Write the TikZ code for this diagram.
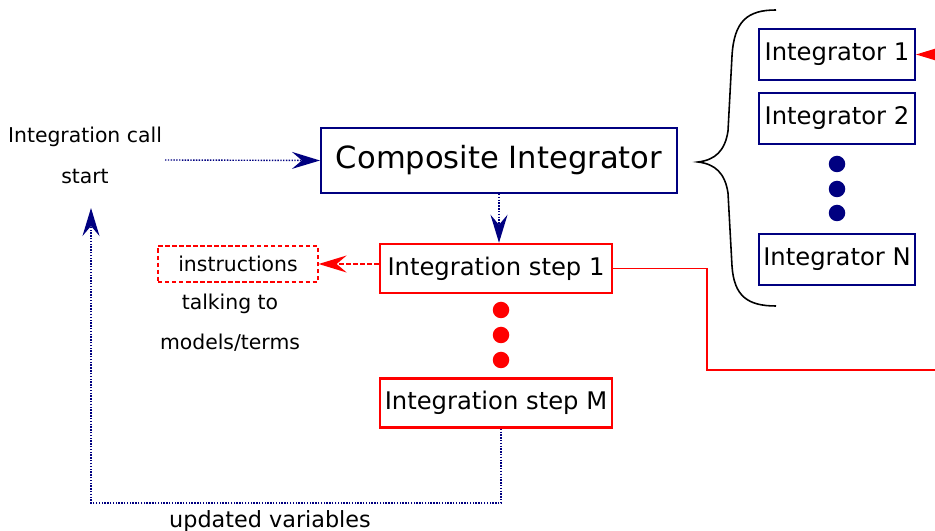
\documentclass[tikz,border=0pt]{standalone}
\usepackage{fontspec}
\setmainfont{DejaVu Sans}
\usetikzlibrary{arrows.meta}
\definecolor{navy}{RGB}{0,0,128}
\tikzset{
  integ/.style={draw=navy,line width=1.2pt,minimum width=3.12cm,minimum height=1.02cm,inner sep=1pt,font=\fontsize{13.8}{16}\selectfont},
  stepbox/.style={draw=red,line width=1.4pt,minimum width=4.64cm,minimum height=0.98cm,inner sep=1pt,font=\fontsize{13.8}{16}\selectfont},
  smalltext/.style={font=\fontsize{11.6}{14}\selectfont},
  flow/.style={navy,line width=0.8pt,dash pattern=on 0.8pt off 0.8pt},
  bigtip/.style={-{Stealth[length=0.56cm,width=0.34cm,inset=0.2cm]}}
}

\begin{document}
\begin{tikzpicture}
\useasboundingbox (0,0) rectangle (18.7,10.62);
\clip (0,0) rectangle (18.7,10.62);
% main chain
\node[draw=navy,line width=1.2pt,minimum width=7.12cm,minimum height=1.3cm,font=\fontsize{17.4}{20}\selectfont] (comp) at (9.98,7.41) {Composite Integrator};
\node[stepbox] (step1) at (9.92,5.25) {Integration step 1};
\node[stepbox] (stepM) at (9.92,2.56) {Integration step M};
\foreach \y in {4.42,3.92,3.42} \fill[red] (10.02,\y) circle (0.165);
% left side
\node[smalltext] (call) at (1.7,7.88) {Integration call};
\node[smalltext] (start) at (1.7,7.1) {start};
\coordinate (callend) at (3.3,7.42);
\draw[flow,bigtip] (callend) -- (comp.west);
\draw[flow,bigtip] (comp.south) -- (comp.south|-step1.north);
\node[smalltext,draw=red,line width=0.7pt,dash pattern=on 2.5pt off 1.5pt,minimum width=3.2cm,minimum height=0.72cm] (instr) at (4.76,5.34) {instructions};
\node[smalltext] (talk) at (4.6,4.54) {talking to};
\node[smalltext] (models) at (4.6,3.76) {models/terms};
\draw[red,line width=0.9pt,dash pattern=on 2.5pt off 1.5pt,bigtip] (step1.west|-instr) -- (instr.east);
% feedback loop
\coordinate (loopA) at (10.02,0.56);
\coordinate (loopB) at (1.82,0.56);
\coordinate (loopC) at (1.82,6.46);
\draw[flow,bigtip] (stepM.south-|loopA) -- (loopA) -- (loopB) -- (loopC);
\node[font=\fontsize{12.7}{15}\selectfont] (upd) at (5.4,0.2) {updated variables};
% integrators
\node[integ] (int1) at (16.74,9.53) {Integrator 1};
\node[integ] (int2) at (16.74,8.25) {Integrator 2};
\node[integ] (intN) at (16.74,5.43) {Integrator N};
\foreach \y in {7.34,6.84,6.36} \fill[navy] (16.74,\y) circle (0.165);
\draw[line width=0.9pt] (15.52,10.42) .. controls (14.95,10.42) and (14.68,10.2) .. (14.64,9.5) -- (14.56,8.0) .. controls (14.5,7.6) and (14.3,7.42) .. (13.96,7.38) .. controls (14.3,7.34) and (14.5,7.16) .. (14.56,6.76) -- (14.64,5.3) .. controls (14.68,4.7) and (14.95,4.5) .. (15.52,4.5);
% red links off to the right
\coordinate (redout) at (19.2,3.22);
\coordinate (redin) at (19.2,9.53);
\draw[red,line width=0.9pt] (step1.east) -| (14.14,3.22) -- (redout);
\draw[red,line width=0.9pt,bigtip] (redin) -- (int1.east);
\end{tikzpicture}
\end{document}
